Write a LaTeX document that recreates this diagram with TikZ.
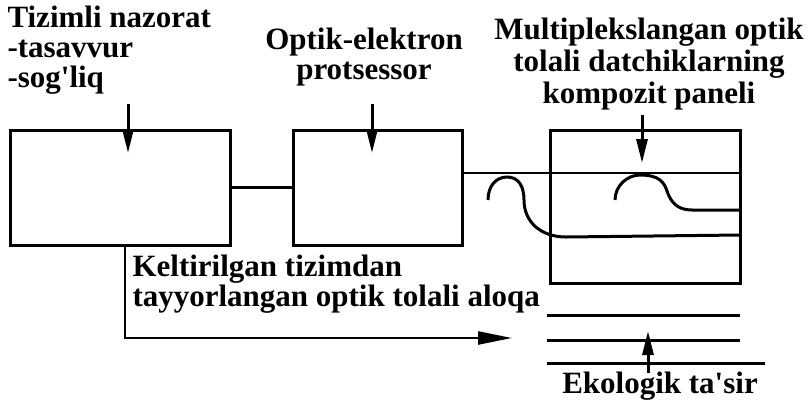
\documentclass[tikz,border=0pt]{standalone}
\usepackage{fontspec}
\setmainfont{Liberation Serif}[Ligatures=TeXOff]
\usetikzlibrary{arrows.meta}
\begin{document}
\begin{tikzpicture}[x=1pt,y=-1pt,line width=3pt,
  blk/.style={draw,rectangle,inner sep=0pt,line width=3pt},
  lbl/.style={inner sep=0pt,font=\fontsize{31}{30}\selectfont\bfseries},
  vtip/.style={-{Triangle[length=24pt,width=11pt]}},
  htip/.style={-{Triangle[length=34pt,width=13pt]}}]
\useasboundingbox (0,0) rectangle (810,405);
% boxes
\node[blk,minimum width=220pt,minimum height=115pt] (b1) at (120,187.5) {};
\node[blk,minimum width=169pt,minimum height=115pt] (b2) at (377.5,187.5) {};
\node[blk,minimum width=190pt,minimum height=153pt] (b3) at (645,206.5) {};
\draw[line width=2.4pt] (b1) -- (b2);
% labels
\node[lbl,align=left,anchor=west] (t1) at (6,50) {Tizimli nazorat\\-tasavvur\\-sog'liq};
\node[lbl,align=center] (t2) at (364,57) {Optik-elektron\\protsessor};
\node[lbl,align=center,font=\fontsize{31}{32}\selectfont\bfseries] (t3) at (649,64) {Multiplekslangan optik\\tolali datchiklarning\\kompozit paneli};
\node[lbl,align=left,anchor=west] (t4) at (131,284) {Keltirilgan tizimdan\\tayyorlangan optik tolali aloqa};
\node[lbl] (t5) at (660,386) {Ekologik ta'sir};
% input arrows
\coordinate (a1s) at (128,104); \coordinate (a1e) at (128,153);
\coordinate (a2s) at (372,104); \coordinate (a2e) at (372,153);
\coordinate (a3s) at (642,115); \coordinate (a3e) at (642,163);
\draw[vtip] (a1s) -- (a1e);
\draw[vtip] (a2s) -- (a2e);
\draw[vtip] (a3s) -- (a3e);
% panel fibres
\coordinate (p0) at (463,173); \coordinate (p1) at (740,173);
\draw[line width=2.4pt] (p0) -- (p1);
\draw (488,200) .. controls (488,186) and (496,177) .. (507,177)
  .. controls (519,177) and (524,187) .. (524,200)
  .. controls (524,222) and (541,237) .. (566,237) -- (740,235);
\draw (615,200) .. controls (615,186) and (627,175) .. (640,175)
  .. controls (659,175) and (664,182) .. (667,191)
  .. controls (671,203) and (678,210) .. (692,210) -- (740,210);
% output
\coordinate (oe) at (512,338);
\draw[htip,line width=2.4pt] (b1.south -| 125,0) |- (oe);
% environment layers
\coordinate (l1a) at (547,315); \coordinate (l1b) at (740,315);
\coordinate (l2a) at (547,340); \coordinate (l2b) at (740,340);
\coordinate (l3a) at (547,363); \coordinate (l3b) at (765,363);
\draw (l1a) -- (l1b);
\draw (l2a) -- (l2b);
\draw (l3a) -- (l3b);
\coordinate (es) at (648,373); \coordinate (ee) at (648,331);
\draw[vtip] (es) -- (ee);
\end{tikzpicture}
\end{document}
